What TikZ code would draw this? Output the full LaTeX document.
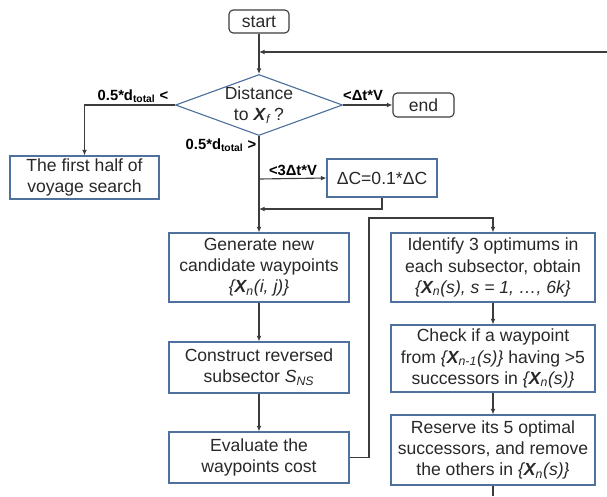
\documentclass[tikz,border=0pt]{standalone}
\usepackage{fontspec}
\setmainfont{Liberation Sans}
\usetikzlibrary{shapes.geometric, arrows.meta}

\definecolor{boxblue}{RGB}{79,113,158}
\definecolor{linegray}{RGB}{60,60,60}
\definecolor{textgray}{RGB}{40,40,40}

\newcommand{\Xvec}{\textbf{\textit{X}}}

\begin{document}
\begin{tikzpicture}[x=0.025cm, y=-0.025cm,
    every node/.style={font=\fontsize{12.5}{15}\selectfont, text=textgray, align=center},
    blockbox/.style={draw=boxblue, line width=0.8pt, rectangle, inner sep=0pt},
    termbox/.style={draw=linegray, line width=0.8pt, rounded corners=3pt, inner sep=0pt},
    cond/.style={font=\fontsize{10.5}{12}\selectfont\bfseries, text=black},
    flow/.style={draw=linegray, line width=0.8pt, -{Latex[length=4pt,width=3.5pt]}},
    plain/.style={draw=linegray, line width=0.8pt}]
    \useasboundingbox (0,0) rectangle (607,496);

    % Start, decision and end
    \node[termbox, minimum width=1.5cm, minimum height=0.575cm] (start) at (259,21.5) {start};
    \node[diamond, draw=boxblue, line width=0.8pt, aspect=2.74, inner sep=-1.5pt,
          minimum width=4.175cm, minimum height=1.525cm] (dist) at (259,105)
          {Distance\\to \Xvec\textsubscript{\textit{f}}\,?};
    \node[termbox, minimum width=1.525cm, minimum height=0.6cm] (end) at (423.5,105) {end};

    % Left branch and step correction
    \node[blockbox, minimum width=3.725cm, minimum height=1.075cm] (first) at (84.5,177.5)
          {The first half of\\voyage search};
    \node[blockbox, minimum width=2.75cm, minimum height=0.95cm] (dc) at (382,178) {ΔC=0.1*ΔC};

    % Left column
    \node[blockbox, minimum width=4.5cm, minimum height=1.725cm] (gen) at (259,267.5)
          {Generate new\\candidate waypoints\\\textit{\{\Xvec\textsubscript{n}(i, j)\}}};
    \node[blockbox, minimum width=4.5cm, minimum height=1.275cm] (cons) at (259,367.5)
          {Construct reversed\\subsector \textit{S}\textsubscript{\textit{NS}}};
    \node[blockbox, minimum width=4.5cm, minimum height=1.275cm] (eval) at (259,457.5)
          {Evaluate the\\waypoints cost};

    % Right column
    \node[blockbox, minimum width=5.1cm, minimum height=1.725cm] (ident) at (493,267.5)
          {Identify 3 optimums in\\each subsector, obtain\\\textit{\{\Xvec\textsubscript{n}(s), s = 1, \dots, 6k\}}};
    \node[blockbox, minimum width=5.1cm, minimum height=1.675cm] (check) at (493,358.5)
          {Check if a waypoint\\from \textit{\{\Xvec\textsubscript{n-1}(s)\}} having >5\\successors in \textit{\{\Xvec\textsubscript{n}(s)\}}};
    \node[blockbox, minimum width=5.1cm, minimum height=1.75cm] (reserve) at (493,450)
          {Reserve its 5 optimal\\successors, and remove\\the others in \textit{\{\Xvec\textsubscript{n}(s)\}}};

    % Condition labels
    \node[cond] (lfar) at (133,96) {0.5*d\textsubscript{total} <};
    \node[cond] (lend) at (363,95) {<Δt*V};
    \node[cond] (lnear) at (221,145) {0.5*d\textsubscript{total} >};
    \node[cond] (lslow) at (293,170) {<3Δt*V};

    % Helper points
    \coordinate (fbin) at (607,52);
    \coordinate (fork) at (259,179);
    \coordinate (merge) at (259,209);
    \coordinate (loop) at (369,218);
    \coordinate (out) at (493,496);

    % Connectors
    \draw[flow] (start) -- (dist);
    \draw[flow] (fbin) -- (fbin -| start);
    \draw[flow] (dist.west) -| (first.north);
    \draw[flow] (dist.east) -- (end.west);
    \draw[flow] (dist.south) -- (gen.north);
    \draw[flow] (fork) -- (dc.west);
    \draw[flow] (dc.south) |- (merge);
    \draw[flow] (gen) -- (cons);
    \draw[flow] (cons) -- (eval);
    \draw[flow] (eval.east) -| (loop) -| (ident.north);
    \draw[flow] (ident) -- (check);
    \draw[flow] (check) -- (reserve);
    \draw[plain] (reserve.south) -- (out);
\end{tikzpicture}
\end{document}
